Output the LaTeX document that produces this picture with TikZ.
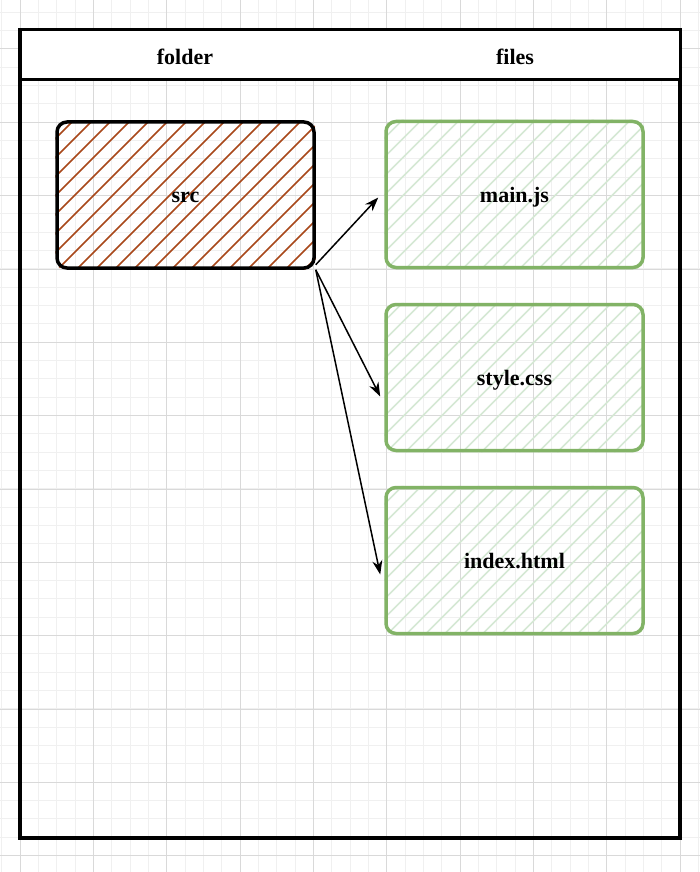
\documentclass[tikz,border=0pt]{standalone}
\usepackage{fontspec}
\setmainfont{Liberation Serif}
\usetikzlibrary{arrows.meta,calc,backgrounds}
\definecolor{gridminor}{HTML}{F0F0F0}
\definecolor{gridmajor}{HTML}{D9D9D9}
\definecolor{hatchbrown}{HTML}{A8481A}
\definecolor{hatchgreen}{HTML}{D5E8D4}
\definecolor{filegreen}{HTML}{82B366}

\begin{document}
\begin{tikzpicture}[x=1pt, y=-1pt,
    minorln/.style={gridminor, line width=1pt},
    majorln/.style={gridmajor, line width=1pt},
    lbl/.style={font=\bfseries\fontsize{22}{24}\selectfont, text height=15pt, text depth=0pt},
    folderbox/.style={draw=black, line width=3.5pt, rounded corners=10pt, minimum width=257pt, minimum height=146pt, lbl},
    filebox/.style={draw=filegreen, line width=3.5pt, rounded corners=10pt, minimum width=257pt, minimum height=146pt, lbl},
    link/.style={-{Stealth[length=14pt,width=10pt]}, line width=1.5pt}
]
\useasboundingbox (0,0) rectangle (700,872);

\begin{scope}[on background layer]
\fill[white] (0,0) rectangle (700,872);
\foreach \k in {0,...,38} \draw[minorln] (1.67+\k*18.333,0) -- ++(0,872);
\foreach \k in {0,...,47} \draw[minorln] (0,12.33+\k*18.333) -- ++(700,0);
\foreach \k in {0,...,9} \draw[majorln] (20+\k*73.333,0) -- ++(0,872);
\foreach \k in {0,...,11} \draw[majorln] (0,49+\k*73.333) -- ++(700,0);
\end{scope}

\node[draw, line width=3.5pt, minimum width=660pt, minimum height=808pt] (table) at (350,434) {};
\node[draw, fill=white, line width=3pt, minimum width=660pt, minimum height=50pt] (header) at (350,55) {};
\node[lbl] (foldercol) at (185,57) {folder};
\node[lbl] (filescol) at (515,57) {files};

\node[folderbox] (src) at (185.5,195) {src};
\node[filebox] (main) at (514.5,194.5) {main.js};
\node[filebox] (style) at (514.5,377.5) {style.css};
\node[filebox] (index) at (514.5,560.5) {index.html};

\begin{scope}[on background layer]
\foreach \n/\c in {src/hatchbrown, main/hatchgreen, style/hatchgreen, index/hatchgreen} {
    \begin{scope}
    \clip[rounded corners=10pt] (\n.south west) rectangle (\n.north east);
    \foreach \i in {0,...,22} \draw[\c, line width=1.5pt] ($(\n.south west)+(\i*19-150,0)$) -- ++(165,-165);
    \end{scope}
}
\end{scope}

\draw[link] ([yshift=5pt]src.south east) -- ([xshift=-6pt,yshift=-3pt]main.west);
\draw[link] (src.south east) -- ([xshift=-4pt,yshift=-19pt]style.west);
\draw[link] (src.south east) -- ([xshift=-4pt,yshift=-14pt]index.west);
\end{tikzpicture}
\end{document}
